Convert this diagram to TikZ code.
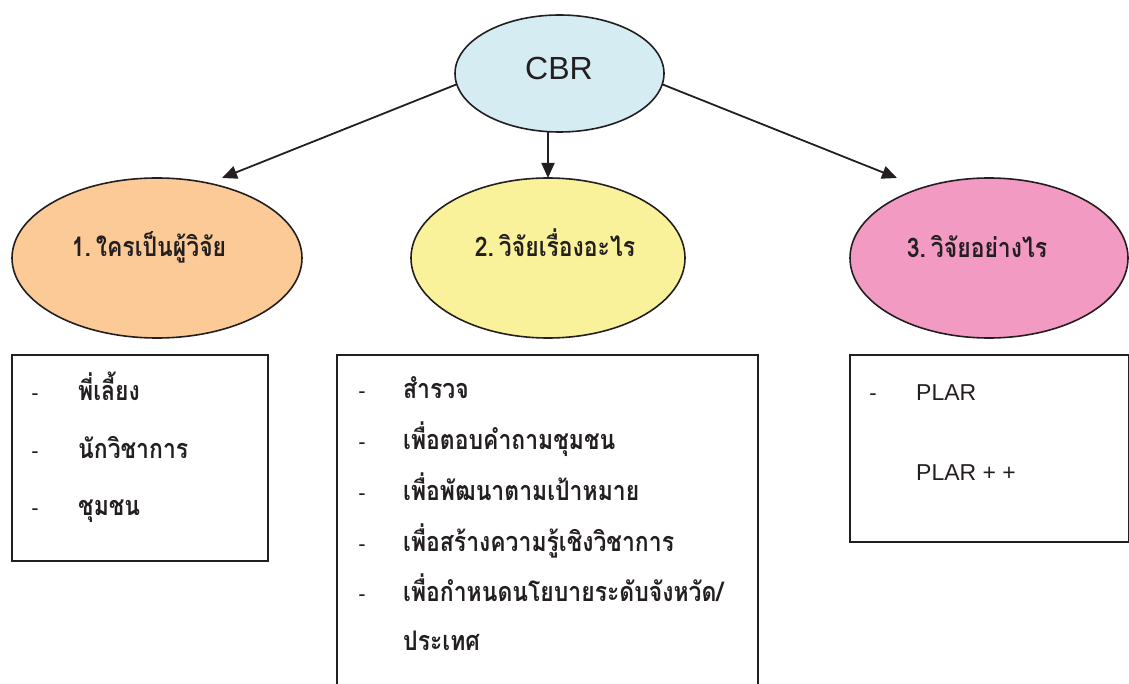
\documentclass[tikz,border=0pt]{standalone}
\usepackage{fontspec}
\setmainfont{Liberation Sans}
\newfontfamily\thai[Script=Thai,FakeStretch=0.85]{Loma}
\usetikzlibrary{shapes.geometric,arrows.meta}
\definecolor{ink}{HTML}{231F20}
\definecolor{cblue}{HTML}{D5ECF2}
\definecolor{corange}{HTML}{FBCA96}
\definecolor{cyellow}{HTML}{FAF19B}
\definecolor{cpink}{HTML}{F39AC2}
\tikzset{
  bubble/.style={ellipse, draw=ink, line width=1.6pt, inner sep=0pt, outer sep=0pt},
  listbox/.style={draw=ink, line width=1.8pt},
  conn/.style={draw=ink, line width=1.8pt, -{Triangle[length=15pt,width=13pt]}},
  lbl/.style={anchor=base, text=ink, inner sep=0pt, font=\thai\bfseries\fontsize{27}{32}\selectfont},
  item/.style={anchor=base west, text=ink, inner sep=0pt, font=\thai\bfseries\fontsize{27}{32}\selectfont},
  latin/.style={anchor=base west, text=ink, inner sep=0pt, font=\fontsize{23}{28}\selectfont},
  dashmark/.style={anchor=base, text=ink, inner sep=0pt, font=\fontsize{22}{26}\selectfont},
}
\begin{document}
\begin{tikzpicture}[x=1pt,y=-1pt]
\useasboundingbox (0,0) rectangle (1129,684);
% ellipses
\node[bubble, fill=cblue, minimum width=209pt, minimum height=117pt] (cbr) at (559.5,73.5) {};
\node[bubble, fill=corange, minimum width=290pt, minimum height=160pt] (e1) at (157,258) {};
\node[bubble, fill=cyellow, minimum width=274pt, minimum height=160pt] (e2) at (548,258) {};
\node[bubble, fill=cpink, minimum width=278pt, minimum height=160pt] (e3) at (989,258) {};
% labels
\node[anchor=base, text=ink, inner sep=0pt, font=\fontsize{32}{36}\selectfont] (tcbr) at (559,80) {CBR};
\node[lbl] (t1) at (149,257) {1.\kern5pt ใครเป็นผู้วิจัย};
\node[lbl] (t2) at (555,257) {2.\kern5pt วิจัยเรื่องอะไร};
\node[lbl] (t3) at (977,258) {3.\kern5pt วิจัยอย่างไร};
% connectors
\coordinate (p1) at (222,178);
\coordinate (p3) at (897,178);
\draw[conn] (cbr.186) -- (p1);
\draw[conn] (cbr.354) -- (p3);
\draw[conn] (cbr.south -| e2.north) -- (e2.north);
% boxes
\draw[listbox] (12,355) rectangle (268,561);
\draw[listbox] (337,355) rectangle (758,700);
\draw[listbox] (850,355) rectangle (1129,542);
% box 1
\node[dashmark] (d11) at (35,400) {-};
\node[dashmark] (d12) at (35,458) {-};
\node[dashmark] (d13) at (35,515) {-};
\node[item] (a11) at (78,400) {พี่เลี้ยง};
\node[item] (a12) at (78,458) {นักวิชาการ};
\node[item] (a13) at (78,515) {ชุมชน};
% box 2
\node[dashmark] (d21) at (362,398) {-};
\node[dashmark] (d22) at (362,449) {-};
\node[dashmark] (d23) at (362,500) {-};
\node[dashmark] (d24) at (362,551) {-};
\node[dashmark] (d25) at (362,601) {-};
\node[item] (a21) at (403,398) {สำรวจ};
\node[item] (a22) at (403,449) {เพื่อตอบคำถามชุมชน};
\node[item] (a23) at (403,500) {เพื่อพัฒนาตามเป้าหมาย};
\node[item] (a24) at (403,551) {เพื่อสร้างความรู้เชิงวิชาการ};
\node[item] (a25) at (403,601) {เพื่อกำหนดนโยบายระดับจังหวัด/};
\node[item] (a26) at (403,650) {ประเทศ};
% box 3
\node[dashmark] (d31) at (873,400) {-};
\node[latin] (a31) at (916,400) {PLAR};
\node[latin] (a32) at (916,480) {PLAR + +};
\end{tikzpicture}
\end{document}
